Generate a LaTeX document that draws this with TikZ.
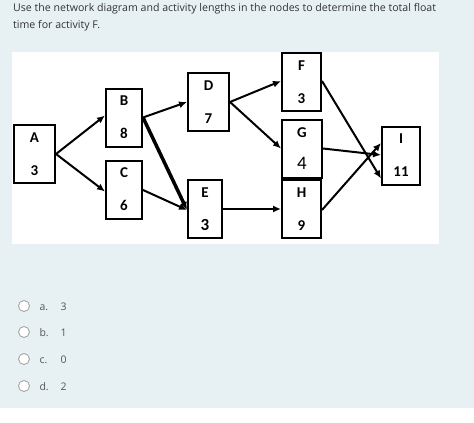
\documentclass[tikz,border=0pt]{standalone}
\usepackage{fontspec}
\setmainfont{Open Sans}
\newfontfamily\boxfont{Carlito}
\usetikzlibrary{arrows.meta, positioning}

\definecolor{pagebg}{HTML}{E7F1F4}
\definecolor{qtext}{HTML}{333333}
\definecolor{opttext}{HTML}{555555}

\begin{document}
\begin{tikzpicture}[x=1pt,y=-1pt,>={Latex[length=8pt,width=7pt]},
    act/.style={draw, line width=2pt, minimum height=58pt, inner sep=0pt,
                align=center, font=\boxfont\bfseries\fontsize{15}{18}\selectfont},
    link/.style={->, line width=2pt},
    radio/.style={circle, draw=gray!70, line width=0.9pt, fill=white, minimum size=11pt, inner sep=0pt},
    opt/.style={anchor=base west, text=opttext, font=\fontsize{10.5}{12}\selectfont}]

  % background
  \fill[pagebg] (0,0) rectangle (474,408);
  \fill[white] (0,408) rectangle (474,423);
  \fill[white] (12,52) rectangle (439,244);
  \useasboundingbox (0,0) rectangle (474,423);

  % question
  \node[anchor=base west, text=qtext, font=\fontsize{10.6}{12}\selectfont, inner sep=0pt] (q1) at (13,11)
    {Use the network diagram and activity lengths in the nodes to determine the total float};
  \node[anchor=base west, text=qtext, font=\fontsize{10.6}{12}\selectfont, inner sep=0pt] (q2) at (13,28)
    {time for activity F.};

  % activities
  \node[act, minimum width=41pt] (A) at (34.5,154) {A\\[15pt]3};
  \node[act, minimum width=36pt] (B) at (124,117.5) {B\\[15pt]8};
  \node[act, minimum width=36pt] (C) at (124,189.5) {C\\[15pt]6};
  \node[act, minimum width=41pt] (D) at (208.5,102) {D\\[15pt]7};
  \node[act, minimum width=34pt] (E) at (205,209) {E\\[15pt]{\fontsize{17}{18}\selectfont 3}};
  \node[act, minimum width=39pt] (F) at (301.5,82) {F\\[15pt]3};
  \node[act, minimum width=40pt] (G) at (302,148.5) {G\\[14pt]{\mdseries\fontsize{19}{18}\selectfont 4}};
  \node[act, minimum width=39pt] (H) at (301.5,209) {H\\[15pt]9};
  \node[act, minimum width=38pt] (I) at (401,155.5) {I\\[15pt]11};

  % precedence links
  \draw[link] (A.east) -- ([yshift=2pt]B.west);
  \draw[link] (A.east) -- ([yshift=-2pt]C.west);
  \draw[link] (B.east) -- (D.west);
  \draw[->, line width=3.5pt] (B.east) -- ([yshift=-1pt]E.west);
  \draw[link] ([yshift=-0.5pt]C.east) -- ([yshift=-1pt]E.west);
  \draw[link] (D.east) -- ([yshift=1pt]F.west);
  \draw[link] (D.east) -- (G.west);
  \draw[link] (E.east) -- (H.west);
  \draw[link] ([yshift=1pt]F.east) -- ([yshift=-23pt]I.west);
  \draw[link] (G.east) -- ([yshift=0.5pt]I.west);
  \draw[link] ([yshift=-1pt]H.east) -- ([yshift=12.5pt]I.west);

  % answer options
  \foreach \y/\l/\v in {306/a/3, 332/b/1, 359/c/0, 386/d/2} {
    \node[radio] (r\l) at (24,\y) {};
    \node[opt] (o\l) at (36,\y+4) {\l.};
    \node[opt] (v\l) at (57,\y+4) {\v};
  }
\end{tikzpicture}
\end{document}
